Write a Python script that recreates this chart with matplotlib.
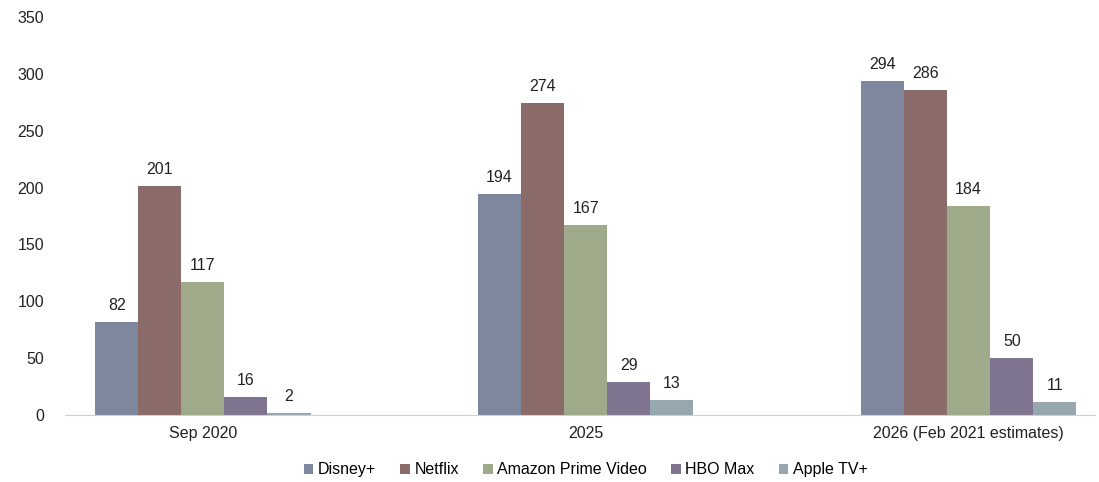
import matplotlib
matplotlib.use('Agg')
import matplotlib.pyplot as plt
import numpy as np

plt.rcParams['font.family'] = ['Liberation Sans', 'DejaVu Sans']

categories = ['Sep 2020', '2025', '2026 (Feb 2021 estimates)']
services = ['Disney+', 'Netflix', 'Amazon Prime Video', 'HBO Max', 'Apple TV+']
disney = [82, 194, 294]
netflix = [201, 274, 286]
amazon = [117, 167, 184]
hbo = [16, 29, 50]
apple = [2, 13, 11]
colors = ['#7f879e', '#8a6b69', '#9eaa8a', '#7f7590', '#97a7b0']

series = [disney, netflix, amazon, hbo, apple]

fig = plt.figure(figsize=(10.99, 4.82), dpi=100)
ax = fig.add_axes([0.0591, 0.139, 0.9373, 0.8257])

x = np.arange(len(categories))
width = 0.1125
for i, (vals, name, col) in enumerate(zip(series, services, colors)):
    pos = x + (i - 2) * width
    bars = ax.bar(pos, vals, width, color=col, label=name, edgecolor='none')
    for b, v in zip(bars, vals):
        ax.text(b.get_x() + b.get_width() / 2, v + 8, str(v),
                ha='center', va='bottom', fontsize=11.5, color='#222222')

ax.set_xlim(-0.36, 2.33)
ax.set_ylim(0, 350)
ax.set_yticks(range(0, 351, 50))
ax.set_xticks(x)
ax.set_xticklabels(categories)
ax.tick_params(axis='both', length=0, labelsize=11.5, colors='#222222')
ax.tick_params(axis='y', pad=15)
ax.tick_params(axis='x', pad=8)
for s in ['top', 'right', 'left']:
    ax.spines[s].set_visible(False)
ax.spines['bottom'].set_color('#c8d0d8')

leg = fig.legend(loc='center', bbox_to_anchor=(0.533, 0.025), ncol=5, frameon=False,
                 fontsize=11.5, handlelength=0.6, handleheight=0.6, handletextpad=0.3,
                 columnspacing=1.5)

fig.savefig('out.png', dpi=100)
